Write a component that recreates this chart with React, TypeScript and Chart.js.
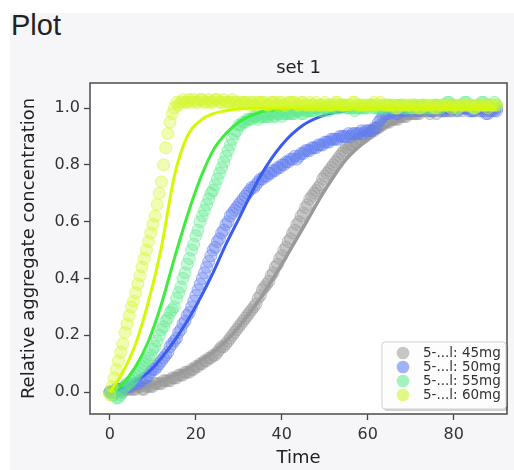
import React, { useEffect, useRef } from "react";
import { Chart, registerables } from "chart.js";

Chart.register(...registerables);

// ---------- data ----------
const TIME = [
  0, 0.5, 1, 1.5, 2, 2.5, 3, 3.5, 4, 4.5, 5, 5.5, 6, 6.5, 7, 7.5, 8, 8.5, 9, 9.5,
  10, 10.5, 11, 11.5, 12, 12.5, 13, 13.5, 14, 14.5, 15, 15.5, 16, 16.5, 17, 17.5, 18, 18.5, 19, 19.5,
  20, 20.5, 21, 21.5, 22, 22.5, 23, 23.5, 24, 24.5, 25, 25.5, 26, 26.5, 27, 27.5, 28, 28.5, 29, 29.5,
  30, 30.5, 31, 31.5, 32, 32.5, 33, 33.5, 34, 34.5, 35, 35.5, 36, 36.5, 37, 37.5, 38, 38.5, 39, 39.5,
  40, 40.5, 41, 41.5, 42, 42.5, 43, 43.5, 44, 44.5, 45, 45.5, 46, 46.5, 47, 47.5, 48, 48.5, 49, 49.5,
  50, 50.5, 51, 51.5, 52, 52.5, 53, 53.5, 54, 54.5, 55, 55.5, 56, 56.5, 57, 57.5, 58, 58.5, 59, 59.5,
  60, 60.5, 61, 61.5, 62, 62.5, 63, 63.5, 64, 64.5, 65, 65.5, 66, 66.5, 67, 67.5, 68, 68.5, 69, 69.5,
  70, 70.5, 71, 71.5, 72, 72.5, 73, 73.5, 74, 74.5, 75, 75.5, 76, 76.5, 77, 77.5, 78, 78.5, 79, 79.5,
  80, 80.5, 81, 81.5, 82, 82.5, 83, 83.5, 84, 84.5, 85, 85.5, 86, 86.5, 87, 87.5, 88, 88.5, 89, 89.5,
  90,
];

const MEAS_45 = [
  0.0, 0.0, 0.0, 0.01, 0.01, 0.0, 0.0, 0.01, 0.01, 0.01, 0.01, 0.01, 0.01, 0.02, 0.02, 0.01, 0.01, 0.02, 0.02, 0.02,
  0.02, 0.03, 0.03, 0.03, 0.03, 0.04, 0.04, 0.04, 0.04, 0.05, 0.05, 0.05, 0.06, 0.06, 0.06, 0.07, 0.07, 0.07, 0.08, 0.08,
  0.09, 0.09, 0.1, 0.1, 0.11, 0.11, 0.12, 0.12, 0.13, 0.13, 0.14, 0.15, 0.16, 0.16, 0.17, 0.18, 0.19, 0.2, 0.21, 0.22,
  0.23, 0.24, 0.25, 0.26, 0.27, 0.28, 0.29, 0.3, 0.31, 0.33, 0.34, 0.36, 0.37, 0.38, 0.39, 0.41, 0.42, 0.44, 0.45, 0.47,
  0.48, 0.5, 0.51, 0.53, 0.54, 0.56, 0.57, 0.59, 0.6, 0.62, 0.63, 0.65, 0.66, 0.68, 0.69, 0.7, 0.71, 0.72, 0.73, 0.75,
  0.76, 0.77, 0.78, 0.79, 0.8, 0.81, 0.82, 0.83, 0.84, 0.85, 0.86, 0.86, 0.87, 0.87, 0.88, 0.88, 0.89, 0.89, 0.9, 0.9,
  0.91, 0.91, 0.92, 0.92, 0.93, 0.93, 0.94, 0.94, 0.95, 0.95, 0.95, 0.96, 0.96, 0.96, 0.96, 0.97, 0.97, 0.97, 0.97, 0.98,
  0.98, 0.98, 0.98, 0.98, 0.98, 0.99, 0.99, 0.99, 0.99, 0.98, 0.99, 0.99, 0.98, 0.99, 0.99, 0.99, 1.0, 0.99, 0.99, 1.0,
  1.0, 0.99, 1.0, 1.0, 0.99, 1.0, 1.0, 1.0, 1.0, 0.99, 1.0, 1.0, 0.99, 1.0, 1.0, 1.0, 1.0, 0.99, 1.0, 1.0,
  1.0,
];

const MEAS_50 = [
  0.0, 0.0, 0.0, 0.01, 0.01, 0.01, 0.01, 0.02, 0.02, 0.02, 0.02, 0.03, 0.03, 0.03, 0.04, 0.04, 0.05, 0.05, 0.06, 0.07,
  0.08, 0.08, 0.09, 0.1, 0.11, 0.12, 0.13, 0.14, 0.16, 0.17, 0.18, 0.19, 0.21, 0.22, 0.24, 0.25, 0.27, 0.28, 0.3, 0.32,
  0.34, 0.36, 0.38, 0.4, 0.42, 0.44, 0.46, 0.48, 0.5, 0.51, 0.53, 0.54, 0.56, 0.57, 0.59, 0.6, 0.62, 0.63, 0.64, 0.65,
  0.66, 0.67, 0.68, 0.69, 0.7, 0.71, 0.72, 0.72, 0.73, 0.74, 0.75, 0.75, 0.76, 0.76, 0.77, 0.77, 0.78, 0.78, 0.79, 0.79,
  0.8, 0.8, 0.81, 0.81, 0.82, 0.82, 0.83, 0.82, 0.83, 0.84, 0.84, 0.85, 0.85, 0.85, 0.86, 0.86, 0.86, 0.87, 0.87, 0.87,
  0.88, 0.88, 0.88, 0.89, 0.89, 0.89, 0.89, 0.9, 0.9, 0.9, 0.9, 0.91, 0.9, 0.91, 0.91, 0.91, 0.91, 0.92, 0.91, 0.92,
  0.92, 0.92, 0.92, 0.93, 0.93, 0.95, 0.96, 0.97, 0.98, 0.98, 0.98, 0.99, 0.99, 0.98, 0.98, 0.99, 0.99, 0.99, 0.99, 1.0,
  0.99, 1.0, 1.0, 0.99, 0.99, 1.0, 1.0, 1.0, 1.0, 0.99, 0.99, 1.0, 1.0, 1.0, 1.0, 0.99, 0.99, 1.0, 1.0, 0.99,
  1.0, 1.0, 0.99, 1.0, 1.0, 1.0, 1.0, 0.99, 0.99, 0.99, 0.99, 1.0, 1.0, 0.99, 0.99, 0.98, 0.98, 0.99, 0.99, 0.99,
  0.99,
];

const MEAS_55 = [
  0.0, -0.01, -0.01, -0.02, -0.02, -0.01, 0.01, 0.02, 0.03, 0.03, 0.04, 0.05, 0.06, 0.07, 0.08, 0.09, 0.1, 0.11, 0.12, 0.13,
  0.15, 0.16, 0.18, 0.2, 0.22, 0.23, 0.25, 0.26, 0.28, 0.29, 0.3, 0.33, 0.35, 0.37, 0.4, 0.42, 0.45, 0.47, 0.5, 0.52,
  0.55, 0.57, 0.6, 0.62, 0.64, 0.66, 0.68, 0.7, 0.71, 0.73, 0.75, 0.77, 0.79, 0.81, 0.83, 0.85, 0.87, 0.89, 0.91, 0.92,
  0.94, 0.94, 0.95, 0.95, 0.96, 0.96, 0.96, 0.97, 0.97, 0.96, 0.97, 0.97, 0.97, 0.97, 0.97, 0.98, 0.97, 0.97, 0.98, 0.98,
  0.97, 0.98, 0.98, 0.98, 0.98, 0.98, 0.98, 0.99, 0.99, 0.98, 0.98, 0.99, 0.99, 0.99, 0.99, 0.99, 1.0, 1.0, 0.99, 0.99,
  1.0, 1.0, 0.99, 1.0, 1.0, 1.0, 1.0, 1.0, 1.01, 1.01, 1.0, 1.0, 1.0, 1.0, 0.99, 1.0, 1.0, 1.0, 1.0, 1.0,
  1.0, 1.01, 1.01, 1.0, 1.0, 1.0, 1.0, 1.0, 1.0, 1.01, 1.01, 1.0, 1.0, 1.01, 1.0, 1.01, 1.01, 1.0, 1.0, 1.0,
  1.0, 1.01, 1.01, 1.0, 1.0, 1.01, 1.01, 1.0, 1.0, 1.0, 1.0, 1.01, 1.01, 1.0, 1.0, 1.01, 1.01, 1.02, 1.02, 1.01,
  1.01, 1.0, 1.0, 1.01, 1.01, 1.02, 1.02, 1.01, 1.01, 1.0, 1.0, 1.01, 1.01, 1.02, 1.02, 1.01, 1.01, 1.01, 1.01, 1.02,
  1.01,
];

const MEAS_60 = [
  -0.01, 0.02, 0.05, 0.08, 0.11, 0.14, 0.17, 0.21, 0.24, 0.27, 0.3, 0.32, 0.35, 0.38, 0.41, 0.44, 0.47, 0.5, 0.53, 0.56,
  0.59, 0.62, 0.66, 0.7, 0.74, 0.8, 0.86, 0.91, 0.95, 0.98, 1.0, 1.02, 1.01, 1.02, 1.03, 1.02, 1.02, 1.03, 1.02, 1.03,
  1.02, 1.02, 1.03, 1.03, 1.02, 1.02, 1.03, 1.02, 1.02, 1.03, 1.03, 1.02, 1.02, 1.03, 1.02, 1.02, 1.02, 1.03, 1.02, 1.02,
  1.01, 1.02, 1.02, 1.02, 1.02, 1.01, 1.02, 1.02, 1.01, 1.02, 1.02, 1.02, 1.02, 1.01, 1.01, 1.02, 1.02, 1.02, 1.01, 1.02,
  1.02, 1.01, 1.01, 1.02, 1.02, 1.02, 1.02, 1.01, 1.01, 1.02, 1.02, 1.01, 1.01, 1.02, 1.01, 1.01, 1.02, 1.01, 1.01, 1.01,
  1.02, 1.01, 1.01, 1.01, 1.01, 1.02, 1.02, 1.01, 1.01, 1.01, 1.01, 1.01, 1.01, 1.02, 1.02, 1.01, 1.01, 1.01, 1.01, 1.01,
  1.01, 1.01, 1.01, 1.02, 1.01, 1.01, 1.02, 1.01, 1.01, 1.01, 1.01, 1.01, 1.01, 1.0, 1.0, 1.01, 1.01, 1.01, 1.01, 1.01,
  1.01, 1.0, 1.01, 1.01, 1.0, 1.0, 1.01, 1.01, 1.01, 1.01, 1.01, 1.0, 1.0, 1.01, 1.01, 1.01, 1.01, 1.01, 1.01, 1.0,
  1.01, 1.01, 1.0, 1.01, 1.01, 1.01, 1.01, 1.01, 1.01, 1.0, 1.0, 1.01, 1.01, 1.01, 1.01, 1.01, 1.0, 1.01, 1.01, 1.01,
  1.01,
];

const FIT_TIME = [0, 3, 6, 9, 12, 15, 18, 21, 24, 27, 30, 35, 40, 45, 50, 55, 60, 65, 70, 75, 80, 85, 90];
const FIT_45 = [0, 0.005, 0.01, 0.02, 0.04, 0.06, 0.08, 0.11, 0.14, 0.18, 0.23, 0.33, 0.45, 0.58, 0.71, 0.82, 0.89, 0.94, 0.97, 0.99, 1.0, 1.0, 1.0];
const FIT_50 = [0, 0.015, 0.04, 0.07, 0.12, 0.18, 0.25, 0.33, 0.42, 0.52, 0.61, 0.76, 0.87, 0.94, 0.975, 0.99, 1.0, 1.0, 1.0, 1.0, 1.0, 1.0, 1.0];
const FIT_55 = [0, 0.03, 0.09, 0.18, 0.31, 0.47, 0.62, 0.75, 0.85, 0.91, 0.95, 0.985, 0.995, 1.0, 1.0, 1.0, 1.0, 1.0, 1.0, 1.0, 1.0, 1.0, 1.0];
const FIT_60 = [0, 0.07, 0.17, 0.32, 0.51, 0.76, 0.9, 0.955, 0.98, 0.99, 0.997, 1.0, 1.0, 1.0, 1.0, 1.0, 1.0, 1.0, 1.0, 1.0, 1.0, 1.0, 1.0];

const SERIES_LABELS = ["5-...l: 45mg", "5-...l: 50mg", "5-...l: 55mg", "5-...l: 60mg"];
const X_TICKS = [0, 20, 40, 60, 80];
const Y_TICKS = [0, 0.2, 0.4, 0.6, 0.8, 1.0];

const TITLE = "set 1";
const X_LABEL = "Time";
const Y_LABEL = "Relative aggregate concentration";

// ---------- styles ----------
const SCATTER_FILL = [
  "rgba(150,150,150,0.32)",
  "rgba(95,125,240,0.32)",
  "rgba(90,232,140,0.32)",
  "rgba(212,246,50,0.38)",
];
const SCATTER_EDGE = [
  "rgba(150,150,150,0.45)",
  "rgba(95,125,240,0.45)",
  "rgba(90,232,140,0.45)",
  "rgba(212,246,50,0.5)",
];
const LINE_COLORS = ["#9a9a9a", "#3a5cf2", "#3ded3d", "#d2fa00"];
const LEGEND_COLORS = ["#c6c6c6", "#a2b2f6", "#a4f2bc", "#e2f784"];

const FONT = '"DejaVu Sans", sans-serif';

const toPoints = (xs: number[], ys: number[]) => xs.map((x, i) => ({ x, y: ys[i] }));

export default function App() {
  const ref = useRef<HTMLCanvasElement | null>(null);

  useEffect(() => {
    const canvas = ref.current;
    if (!canvas) return;

    const meas = [MEAS_45, MEAS_50, MEAS_55, MEAS_60];
    const fits = [FIT_45, FIT_50, FIT_55, FIT_60];
    const datasets: any[] = [];
    for (let i = 0; i < 4; i++) {
      datasets.push({
        label: SERIES_LABELS[i],
        data: toPoints(TIME, meas[i]),
        showLine: false,
        pointRadius: 6,
        pointHoverRadius: 6,
        pointBackgroundColor: SCATTER_FILL[i],
        pointBorderColor: SCATTER_EDGE[i],
        pointBorderWidth: 1,
        order: 20 - i * 2,
      });
      datasets.push({
        label: SERIES_LABELS[i] + " fit",
        data: toPoints(FIT_TIME, fits[i]),
        showLine: true,
        pointRadius: 0,
        borderColor: LINE_COLORS[i],
        borderWidth: i === 0 ? 3.5 : 3,
        cubicInterpolationMode: "monotone",
        fill: false,
        order: 19 - i * 2,
      });
    }

    const decoPlugin = {
      id: "deco",
      beforeDraw(chart: any) {
        const { ctx, chartArea: a } = chart;
        ctx.save();
        ctx.fillStyle = "#ffffff";
        ctx.fillRect(a.left, a.top, a.right - a.left, a.bottom - a.top);
        ctx.restore();
      },
      afterDraw(chart: any) {
        const { ctx, chartArea: a } = chart;
        ctx.save();
        // frame
        ctx.strokeStyle = "#555555";
        ctx.lineWidth = 1.6;
        ctx.strokeRect(a.left, a.top, a.right - a.left, a.bottom - a.top);
        // title
        ctx.fillStyle = "#222222";
        ctx.font = `18px ${FONT}`;
        ctx.textAlign = "center";
        ctx.textBaseline = "middle";
        ctx.fillText(TITLE, (a.left + a.right) / 2, 68);
        // legend
        const w = 124, h = 67;
        const x0 = a.right - w - 1, y0 = a.bottom - h - 5;
        ctx.fillStyle = "rgba(0,0,0,0.18)";
        ctx.beginPath();
        ctx.roundRect(x0 + 2, y0 + 2, w, h, 3);
        ctx.fill();
        ctx.fillStyle = "rgba(255,255,255,0.95)";
        ctx.strokeStyle = "#cfcfcf";
        ctx.lineWidth = 1;
        ctx.beginPath();
        ctx.roundRect(x0, y0, w, h, 3);
        ctx.fill();
        ctx.stroke();
        ctx.font = `13.5px ${FONT}`;
        ctx.textAlign = "left";
        for (let i = 0; i < 4; i++) {
          const cy = y0 + 11 + i * 14;
          ctx.fillStyle = LEGEND_COLORS[i];
          ctx.beginPath();
          ctx.arc(x0 + 21, cy, 6.3, 0, Math.PI * 2);
          ctx.fill();
          ctx.fillStyle = "#333333";
          ctx.fillText(SERIES_LABELS[i], x0 + 41, cy + 0.5);
        }
        ctx.restore();
      },
    };

    const chart = new Chart(canvas, {
      type: "scatter",
      data: { datasets },
      plugins: [decoPlugin],
      options: {
        responsive: false,
        animation: false,
        devicePixelRatio: 1,
        layout: { padding: { top: 83, right: 5, left: 0, bottom: 0 } },
        plugins: {
          legend: { display: false },
          title: { display: false },
          tooltip: { enabled: false },
        },
        scales: {
          x: {
            type: "linear",
            min: -4.62,
            max: 92.4,
            afterBuildTicks: (s: any) => {
              s.ticks = X_TICKS.map((v) => ({ value: v }));
            },
            afterFit: (s: any) => {
              s.height = 56;
            },
            ticks: {
              color: "#333333",
              font: { family: FONT, size: 16 },
              padding: 5,
              callback: (v: any) => String(v),
            },
            grid: {
              drawOnChartArea: false,
              drawTicks: true,
              tickLength: 6,
              tickColor: "#444444",
              tickWidth: 1.3,
            },
            border: { display: false },
            title: {
              display: true,
              text: X_LABEL,
              color: "#222222",
              font: { family: FONT, size: 18 },
              padding: { top: 0, bottom: 1 },
            },
          },
          y: {
            type: "linear",
            min: -0.077,
            max: 1.088,
            afterBuildTicks: (s: any) => {
              s.ticks = Y_TICKS.map((v) => ({ value: v }));
            },
            afterFit: (s: any) => {
              s.width = 90;
            },
            ticks: {
              color: "#333333",
              font: { family: FONT, size: 16 },
              padding: 4,
              callback: (v: any) => Number(v).toFixed(1),
            },
            grid: {
              drawOnChartArea: false,
              drawTicks: true,
              tickLength: 6,
              tickColor: "#444444",
              tickWidth: 1.3,
            },
            border: { display: false },
            title: {
              display: true,
              text: Y_LABEL,
              color: "#222222",
              font: { family: FONT, size: 18 },
              padding: { top: 19, bottom: 0 },
            },
          },
        },
      } as any,
    });

    return () => chart.destroy();
  }, []);

  return (
    <div
      style={{
        position: "absolute",
        left: 0,
        top: 0,
        width: 514,
        height: 470,
        background: "#ffffff",
        overflow: "hidden",
      }}
    >
      <div
        style={{
          position: "absolute",
          left: 10,
          top: 13,
          width: 504,
          height: 457,
          background: "#f6f6f9",
        }}
      />
      <div
        style={{
          position: "absolute",
          left: 11,
          top: 11,
          fontFamily: '"Liberation Sans", Arial, sans-serif',
          fontSize: 29,
          lineHeight: "29px",
          color: "#222222",
        }}
      >
        Plot
      </div>
      <canvas
        ref={ref}
        width={514}
        height={470}
        style={{ position: "absolute", left: 0, top: 0, width: 514, height: 470 }}
      />
    </div>
  );
}
